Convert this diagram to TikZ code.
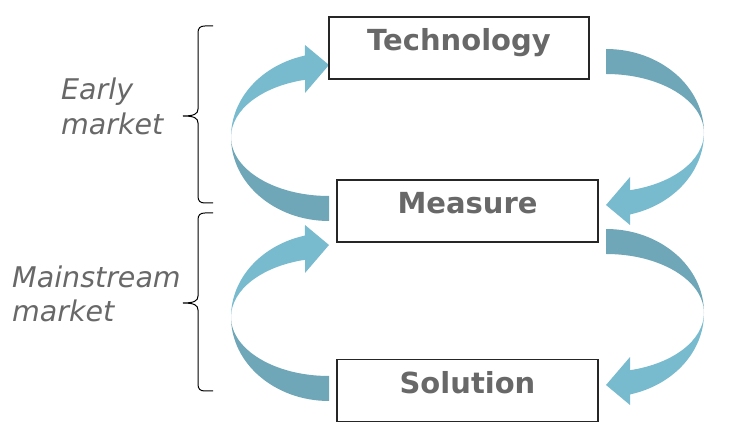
\documentclass[tikz,border=0pt]{standalone}
\usepackage{fontspec}
\setmainfont{DejaVu Sans}
\definecolor{arrlight}{RGB}{120,186,206}
\definecolor{arrdark}{RGB}{111,167,184}
\definecolor{textgray}{RGB}{104,104,104}
\newcommand\ribbonarrow{%
  \fill[arrdark] (-98,0) arc[start angle=180,end angle=270,x radius=98pt,y radius=84pt]
     -- (0,-59) arc[start angle=270,end angle=180,x radius=98pt,y radius=59pt] -- cycle;
  \fill[arrlight] (-98,0) arc[start angle=180,end angle=104.2,x radius=98pt,y radius=84pt]
     -- (-24,92) -- (0,72) -- (-24,44) -- (-24,57.2)
     arc[start angle=104.2,end angle=180,x radius=98pt,y radius=59pt] -- cycle;}
\newcommand\bracedraw[3]{%
  \draw[bracestyle] (213,#1) -- (205,#1) .. controls (200,#1) and (198,#1-2) .. (198,#1-7)
     -- (198,#3+7) .. controls (198,#3+2) and (194,#3) .. (183,#3)
     .. controls (194,#3) and (198,#3-2) .. (198,#3-7)
     -- (198,#2+7) .. controls (198,#2+2) and (200,#2) .. (205,#2) -- (213,#2);}
\begin{document}
\begin{tikzpicture}[x=1pt,y=1pt,
  box/.style={draw=black!85, line width=1.1pt, fill=white, minimum height=62pt,
    inner sep=0pt, font=\fontsize{29}{35}\selectfont\bfseries, text=textgray,
    text height=21pt, text depth=15pt},
  lab/.style={anchor=base west, inner sep=0pt, font=\fontsize{28.5}{35}\selectfont\itshape, text=textgray},
  bracestyle/.style={draw=black, line width=1pt}]
\useasboundingbox (0,0) rectangle (745,436);
% curved arrows
\begin{scope}[shift={(329,299)}] \ribbonarrow \end{scope}
\begin{scope}[shift={(329,119)}] \ribbonarrow \end{scope}
\begin{scope}[shift={(606,303)},rotate=180] \ribbonarrow \end{scope}
\begin{scope}[shift={(606,123)},rotate=180] \ribbonarrow \end{scope}
% boxes
\node[box, minimum width=260pt] (tech) at (459,388) {Technology};
\node[box, minimum width=261pt] (meas) at (467.5,225) {Measure};
\node[box, minimum width=261pt] (sol) at (467.5,45.5) {Solution};
% labels
\node[lab] (early1) at (61,336) {Early};
\node[lab] (early2) at (61,301) {market};
\node[lab] (main1) at (12,148) {Mainstream};
\node[lab] (main2) at (12,114) {market};
% braces
\bracedraw{410}{233}{320}
\bracedraw{223}{45}{133}
\end{tikzpicture}
\end{document}
